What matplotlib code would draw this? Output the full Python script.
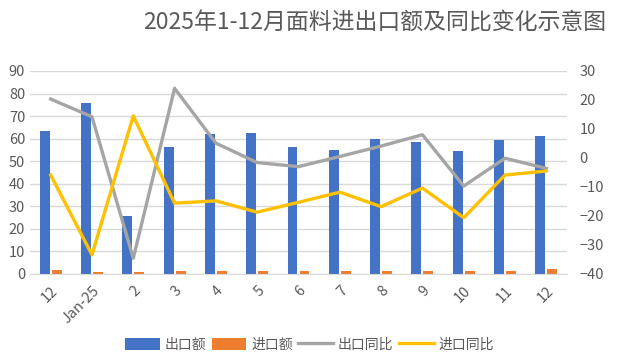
import matplotlib
matplotlib.use("Agg")
import matplotlib.pyplot as plt
import numpy as np

plt.rcParams["font.family"] = ["Noto Sans CJK SC", "DejaVu Sans"]

# Data
months = ["12", "Jan-25", "2", "3", "4", "5", "6", "7", "8", "9", "10", "11", "12"]
export_amt = [63.2, 76.0, 25.5, 56.1, 62.2, 62.6, 56.5, 55.0, 59.9, 58.3, 54.3, 59.5, 61.0]
import_amt = [1.9, 1.0, 1.0, 1.5, 1.5, 1.5, 1.5, 1.5, 1.5, 1.5, 1.5, 1.5, 2.1]
export_yoy = [20.3, 14.2, -34.6, 24.0, 5.1, -1.6, -3.0, 0.5, 4.1, 8.0, -9.7, -0.1, -3.6]
import_yoy = [-5.9, -33.4, 14.5, -15.6, -14.8, -18.7, -15.3, -11.8, -16.8, -10.4, -20.6, -5.9, -4.5]

blue, orange, gray, yellow = "#4472C4", "#ED7D31", "#A5A5A5", "#FFC000"
txt = "#595959"

fig = plt.figure(figsize=(6.19, 3.53), dpi=100)
ax = fig.add_axes([0.0485, 0.224, 0.8675, 0.575])
ax2 = ax.twinx()

x = np.arange(len(months))
w = 0.24
b1 = ax.bar(x - 0.145, export_amt, w, color=blue, label="出口额", zorder=2)
b2 = ax.bar(x + 0.145, import_amt, w, color=orange, label="进口额", zorder=2)
l1, = ax2.plot(x, export_yoy, color=gray, lw=2.4, label="出口同比")
l2, = ax2.plot(x, import_yoy, color=yellow, lw=2.4, label="进口同比")

ax.set_xlim(-0.5, len(months) - 0.5)
ax.set_ylim(0, 90)
ax.set_yticks(range(0, 91, 10))
ax2.set_ylim(-40, 30)
ax2.set_yticks(range(-40, 31, 10))
ax.grid(axis="y", color="#D9D9D9", lw=1, zorder=0)
ax.set_axisbelow(True)

for a in (ax, ax2):
    for s in a.spines.values():
        s.set_visible(False)
    a.tick_params(length=0, labelsize=10.5, labelcolor=txt)
ax.spines["bottom"].set_visible(True)
ax.spines["bottom"].set_color("#D9D9D9")
ax2.tick_params(axis="y", pad=9)

ax.set_xticks(x)
ax.set_xticklabels(months, rotation=45, ha="right", rotation_mode="anchor")
ax.tick_params(axis="x", pad=7)

fig.text(0.605, 0.935, "2025年1-12月面料进出口额及同比变化示意图",
         ha="center", va="center", fontsize=16.5, color=txt)

fig.legend([b1, b2, l1, l2], ["出口额", "进口额", "出口同比", "进口同比"],
           loc="center", bbox_to_anchor=(0.5, 0.024), ncol=4, frameon=False,
           fontsize=10, handlelength=2.5, handleheight=0.9, handletextpad=0.35,
           columnspacing=0.4, labelcolor=txt)

fig.savefig("out.png", dpi=100)
